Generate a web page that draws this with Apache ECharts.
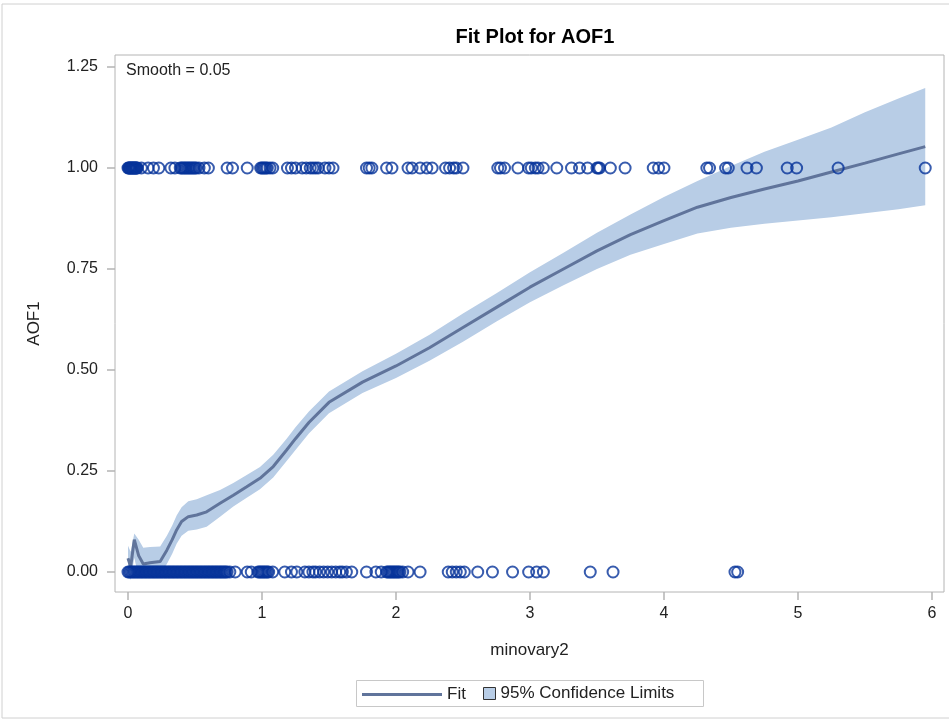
<!DOCTYPE html>
<html>
<head>
<meta charset="utf-8">
<style>
  html, body { margin: 0; padding: 0; background: #fff; }
  #chartmain { width: 949px; height: 721px; }
</style>
<script src="https://cdn.jsdelivr.net/npm/echarts@6/dist/echarts.min.js"></script>
</head>
<body>
<div id="chartmain"></div>
<script>
// tick labels
const xTicks = [0, 1, 2, 3, 4, 5, 6];
const yTicks = [0, 0.25, 0.5, 0.75, 1.0, 1.25];

// observations, AOF1 = 1
const onesX = [0, 0.005, 0.01, 0.015, 0.02, 0.025, 0.03, 0.035, 0.04, 0.045, 0.05, 0.055, 0.06,
    0.065, 0.07, 0.1, 0.15, 0.19, 0.23, 0.32, 0.35, 0.39, 0.4, 0.41, 0.42, 0.43, 0.44, 0.45, 0.46,
    0.47, 0.48, 0.49, 0.5, 0.51, 0.53, 0.57, 0.6, 0.74, 0.78, 0.89, 0.99, 1.0, 1.01, 1.02, 1.03,
    1.04, 1.06, 1.08, 1.19, 1.22, 1.25, 1.3, 1.33, 1.36, 1.38, 1.4, 1.42, 1.47, 1.5, 1.53, 1.78,
    1.8, 1.82, 1.93, 1.97, 2.09, 2.12, 2.18, 2.23, 2.27, 2.37, 2.4, 2.43, 2.45, 2.5, 2.76, 2.78,
    2.81, 2.91, 2.99, 3.01, 3.04, 3.06, 3.1, 3.2, 3.31, 3.37, 3.43, 3.5, 3.51, 3.52, 3.6, 3.71,
    3.92, 3.96, 4.0, 4.32, 4.34, 4.46, 4.48, 4.62, 4.69, 4.92, 4.99, 5.3, 5.95];

// observations, AOF1 = 0
const zerosX = [0, 0.01, 0.02, 0.03, 0.04, 0.05, 0.06, 0.07, 0.08, 0.09, 0.1, 0.11, 0.12, 0.13,
    0.14, 0.15, 0.16, 0.17, 0.18, 0.19, 0.2, 0.21, 0.22, 0.23, 0.24, 0.25, 0.26, 0.27, 0.28, 0.29,
    0.3, 0.31, 0.32, 0.33, 0.34, 0.35, 0.36, 0.37, 0.38, 0.39, 0.4, 0.41, 0.42, 0.43, 0.44, 0.45,
    0.46, 0.47, 0.48, 0.49, 0.5, 0.51, 0.52, 0.53, 0.54, 0.55, 0.56, 0.57, 0.58, 0.59, 0.6, 0.61,
    0.62, 0.63, 0.64, 0.65, 0.66, 0.67, 0.68, 0.69, 0.7, 0.71, 0.72, 0.73, 0.74, 0.76, 0.8, 0.89,
    0.92, 0.97, 0.98, 0.99, 1.0, 1.01, 1.02, 1.03, 1.04, 1.05, 1.08, 1.17, 1.22, 1.26, 1.32, 1.35,
    1.38, 1.4, 1.43, 1.46, 1.49, 1.52, 1.55, 1.58, 1.6, 1.63, 1.67, 1.78, 1.85, 1.89, 1.93, 1.94,
    1.95, 1.96, 1.97, 1.98, 1.99, 2.0, 2.01, 2.02, 2.03, 2.05, 2.09, 2.18, 2.39, 2.42, 2.45, 2.48,
    2.51, 2.61, 2.72, 2.87, 2.99, 3.05, 3.1, 3.45, 3.62, 4.53, 4.55];

// loess fit and 95% confidence limits
const fitX = [0, 0.02, 0.047, 0.08, 0.114, 0.164, 0.24, 0.29, 0.33, 0.363, 0.4, 0.45, 0.513,
    0.587, 0.687, 0.786, 0.886, 0.985, 1.084, 1.184, 1.25, 1.35, 1.5, 1.75, 2, 2.25, 2.5, 2.75,
    3, 3.25, 3.5, 3.75, 4, 4.25, 4.5, 4.75, 5, 5.25, 5.5, 5.75, 5.95];
const fitY = [0.034, 0.013, 0.08, 0.04, 0.02, 0.023, 0.026, 0.054, 0.08, 0.104, 0.125, 0.137,
    0.141, 0.149, 0.17, 0.19, 0.211, 0.232, 0.261, 0.302, 0.33, 0.37, 0.42, 0.47, 0.51, 0.555,
    0.605, 0.655, 0.705, 0.75, 0.795, 0.835, 0.87, 0.903, 0.927, 0.948, 0.968, 0.99, 1.012,
    1.035, 1.053];
const lowerY = [0.0, -0.02, 0.035, -0.015, -0.015, -0.01, -0.005, 0.02, 0.045, 0.07, 0.09, 0.102,
    0.105, 0.112, 0.137, 0.162, 0.184, 0.205, 0.234, 0.275, 0.302, 0.343, 0.393, 0.443, 0.48,
    0.523, 0.57, 0.62, 0.668, 0.71, 0.75, 0.785, 0.812, 0.838, 0.852, 0.862, 0.87, 0.878, 0.888,
    0.898, 0.908];
const upperY = [0.065, 0.05, 0.095, 0.08, 0.06, 0.062, 0.063, 0.09, 0.115, 0.14, 0.16, 0.175,
    0.18, 0.19, 0.203, 0.22, 0.24, 0.26, 0.29, 0.33, 0.358, 0.397, 0.447, 0.497, 0.54, 0.587,
    0.64, 0.69, 0.742, 0.79, 0.84, 0.885, 0.928, 0.968, 1.005, 1.04, 1.07, 1.1, 1.138, 1.172,
    1.198];

{
    const DOM = { main: document.getElementById('chartmain') };
    const chart = echarts.init(DOM.main);

    const FONT = 'Liberation Sans';
    const markerColor = '#06339a';
    const fitColor = '#60749b';
    const bandColor = '#b8cde6';
    const frameColor = '#b4b4b4';

    const onesData = onesX.map(x => [x, 1]);
    const zerosData = zerosX.map(x => [x, 0]);
    const fitData = fitX.map((x, i) => [x, fitY[i]]);

    // confidence band polygon
    function renderBand(params, api) {
        if (params.dataIndex !== 0) return null;
        const pts = [];
        for (let i = 0; i < fitX.length; i++) pts.push(api.coord([fitX[i], upperY[i]]));
        for (let i = fitX.length - 1; i >= 0; i--) pts.push(api.coord([fitX[i], lowerY[i]]));
        return {
            type: 'polygon',
            shape: { points: pts },
            style: { fill: bandColor }
        };
    }

    const option = {
        animation: false,
        title: {
            text: 'Fit Plot for AOF1',
            left: 530,
            textAlign: 'center',
            top: 22,
            textStyle: { fontFamily: FONT, fontSize: 20, fontWeight: 'bold', color: '#000' }
        },
        graphic: [
            {
                type: 'rect',
                shape: { x: 2, y: 4, width: 960, height: 714 },
                style: { fill: 'none', stroke: '#d0d0d0', lineWidth: 1 },
                silent: true
            },
            {
                type: 'rect',
                shape: { x: 356.5, y: 680.5, width: 347, height: 26 },
                style: { fill: 'none', stroke: '#c8c8c8', lineWidth: 1 },
                silent: true
            },
            {
                type: 'text',
                left: 126,
                top: 63,
                style: { text: 'Smooth = 0.05', fontFamily: FONT, fontSize: 16, fill: '#222' },
                silent: true
            }
        ],
        legend: [
            {
                data: [{ name: 'Fit', icon: 'rect', itemStyle: { color: fitColor } }],
                left: 362,
                top: 686,
                padding: 0,
                itemWidth: 80,
                itemHeight: 3,
                textStyle: { fontFamily: FONT, fontSize: 17, color: '#222' }
            },
            {
                data: [{
                    name: '95% Confidence Limits',
                    icon: 'rect',
                    itemStyle: { color: bandColor, borderColor: '#333', borderWidth: 1 }
                }],
                left: 483,
                top: 685,
                padding: 0,
                itemWidth: 12,
                itemHeight: 12,
                textStyle: { fontFamily: FONT, fontSize: 17, color: '#222' }
            }
        ],
        grid: {
            left: 115,
            right: 5,
            top: 55,
            bottom: 129,
            show: true,
            borderColor: frameColor,
            borderWidth: 1,
            containLabel: false
        },
        xAxis: {
            type: 'value',
            min: -0.097,
            max: 6.09,
            name: 'minovary2',
            nameLocation: 'middle',
            nameGap: 50,
            nameTextStyle: { fontFamily: FONT, fontSize: 17, color: '#222' },
            axisLine: { show: false, onZero: false },
            splitLine: { show: false },
            axisTick: {
                show: true,
                inside: false,
                length: 8,
                customValues: xTicks,
                lineStyle: { color: frameColor, width: 1.5 }
            },
            axisLabel: {
                customValues: xTicks,
                margin: 14,
                fontFamily: FONT,
                fontSize: 16,
                color: '#222'
            }
        },
        yAxis: {
            type: 'value',
            min: -0.0495,
            max: 1.2797,
            name: 'AOF1',
            nameLocation: 'middle',
            nameGap: 72,
            nameTextStyle: { fontFamily: FONT, fontSize: 17, color: '#222' },
            axisLine: { show: false, onZero: false },
            splitLine: { show: false },
            axisTick: {
                show: true,
                inside: false,
                length: 8,
                customValues: yTicks,
                lineStyle: { color: frameColor, width: 1.5 }
            },
            axisLabel: {
                customValues: yTicks,
                margin: 17,
                fontFamily: FONT,
                fontSize: 16,
                color: '#222',
                formatter: v => v.toFixed(2)
            }
        },
        series: [
            {
                name: '95% Confidence Limits',
                type: 'custom',
                renderItem: renderBand,
                data: [[0, 0]],
                clip: true,
                itemStyle: { color: bandColor },
                z: 1
            },
            {
                name: 'Fit',
                type: 'line',
                data: fitData,
                symbol: 'none',
                smooth: false,
                lineStyle: { color: fitColor, width: 3 },
                itemStyle: { color: fitColor },
                z: 2
            },
            {
                name: 'obs1',
                type: 'scatter',
                data: onesData,
                symbol: 'circle',
                symbolSize: 11,
                itemStyle: { color: 'rgba(0,0,0,0)', borderColor: markerColor, borderWidth: 2 },
                z: 3
            },
            {
                name: 'obs0',
                type: 'scatter',
                data: zerosData,
                symbol: 'circle',
                symbolSize: 11,
                itemStyle: { color: 'rgba(0,0,0,0)', borderColor: markerColor, borderWidth: 2 },
                z: 3
            }
        ]
    };

    function init() {
        chart.setOption(option);
        window.addEventListener('resize', function () {
            chart.resize();
        });
    }

    init();
}
</script>
</body>
</html>
